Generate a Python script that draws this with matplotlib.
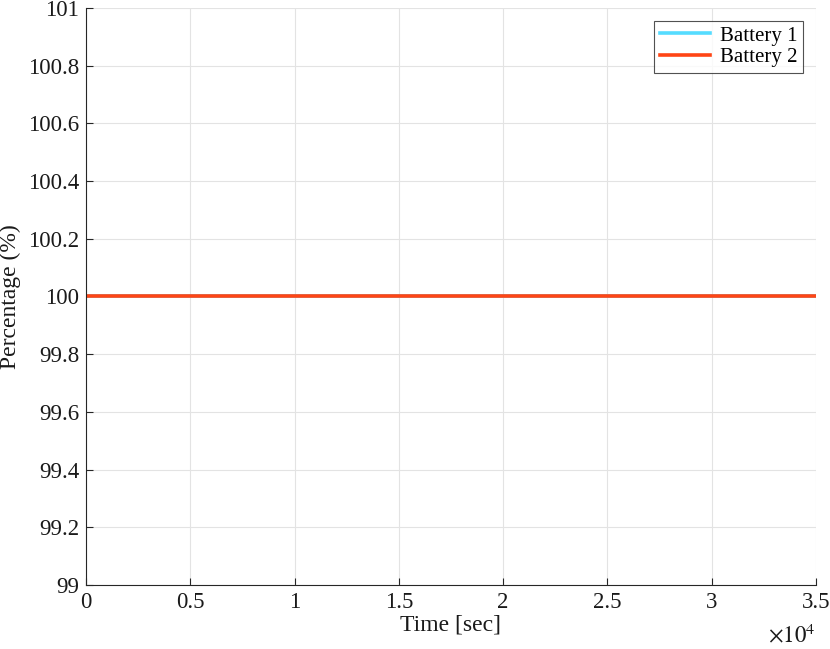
import numpy as np
import matplotlib.pyplot as plt
from matplotlib.ticker import FuncFormatter

plt.rcParams['font.family'] = ['Liberation Serif', 'DejaVu Serif']
plt.rcParams['mathtext.fontset'] = 'stix'

# data: state of charge over time, both batteries stay full
time_sec = [0, 5000, 10000, 15000, 20000, 25000, 30000, 35000]
battery1 = [100, 100, 100, 100, 100, 100, 100, 100]
battery2 = [100, 100, 100, 100, 100, 100, 100, 100]
labels = ['Battery 1', 'Battery 2']
x_ticks = [0, 5000, 10000, 15000, 20000, 25000, 30000, 35000]
y_ticks = [99, 99.2, 99.4, 99.6, 99.8, 100, 100.2, 100.4, 100.6, 100.8, 101]

fig = plt.figure(figsize=(8.3, 6.49), dpi=100)
ax = fig.add_axes([0.1036, 0.0986, 0.8795, 0.8891])

ax.plot(time_sec, battery1, color='#55dcff', lw=2.6, label=labels[0])
ax.plot(time_sec, battery2, color='#ff4515', lw=2.6, label=labels[1])

ax.set_xlim(0, 35000)
ax.set_ylim(99, 101)
ax.set_xticks(x_ticks)
ax.set_yticks(y_ticks)
ax.xaxis.set_major_formatter(FuncFormatter(lambda v, p: '%g' % (v / 1e4)))
ax.yaxis.set_major_formatter(FuncFormatter(lambda v, p: '%g' % round(v, 1)))

ax.grid(True, color='#e3e3e3', lw=0.8)
ax.set_axisbelow(True)
for s in ['top', 'right']:
    ax.spines[s].set_visible(False)
for s in ['left', 'bottom']:
    ax.spines[s].set_color('#262626')
    ax.spines[s].set_linewidth(0.8)
ax.tick_params(direction='in', length=5, width=0.8, colors='#262626',
               labelsize=16.5, labelcolor='#1a1a1a', pad=5)

ax.set_xlabel('Time [sec]', fontsize=17, color='#1a1a1a', labelpad=1)
ax.set_ylabel('Percentage (%)', fontsize=17, color='#1a1a1a', labelpad=5)
ax.text(1.0, -0.068, r'$\times10^{4}$', transform=ax.transAxes,
        ha='right', va='top', fontsize=16.5, color='#1a1a1a')

leg = ax.legend(loc='upper right', bbox_to_anchor=(0.982, 0.9775), fontsize=15,
                frameon=True, fancybox=False, handlelength=2.4, borderaxespad=0,
                borderpad=0.25, labelspacing=0.1, handletextpad=0.5)
leg.get_frame().set_edgecolor('#262626')
leg.get_frame().set_linewidth(0.8)

fig.savefig('out.png', dpi=100)
